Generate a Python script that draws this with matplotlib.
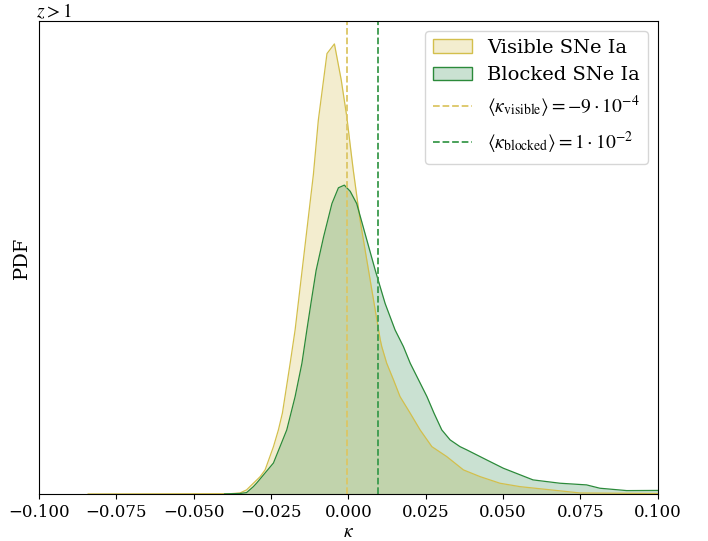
import numpy as np
import matplotlib
matplotlib.use('Agg')
import matplotlib.pyplot as plt

plt.rcParams['font.family'] = ['DejaVu Serif']
plt.rcParams['mathtext.fontset'] = 'stix'

# kappa grid and PDF values
kappa_visible = [-0.0841, -0.0380, -0.0350, -0.0329, -0.0285, -0.0269, -0.0242, -0.0226,
                 -0.0213, -0.0188, -0.0172, -0.0113, -0.0097, -0.0069, -0.0045, -0.0023,
                 -0.0005, 0.0009, 0.0016, 0.0038, 0.0103, 0.0108, 0.0124, 0.0146,
                 0.0167, 0.0200, 0.0232, 0.0270, 0.0318, 0.0372, 0.0426, 0.0490,
                 0.0555, 0.0749, 0.0999]
pdf_visible = [0.0, 0.03, 0.11, 0.46, 1.97, 2.74, 5.39, 7.30,
               9.23, 14.9, 18.7, 36.4, 42.6, 50.2, 51.3, 47.2,
               43.0, 38.9, 36.9, 31.2, 17.6, 16.8, 14.9, 13.0,
               11.1, 9.20, 7.30, 5.39, 4.26, 2.74, 1.97, 1.22,
               0.83, 0.11, 0.05]

kappa_blocked = [-0.0400, -0.0350, -0.0329, -0.0307, -0.0296, -0.0242, -0.0199, -0.0172,
                 -0.0150, -0.0134, -0.0121, -0.0104, -0.0080, -0.0053, -0.0032, -0.0013,
                 0.0006, 0.0027, 0.0057, 0.0087, 0.0119, 0.0151, 0.0178, 0.0200,
                 0.0254, 0.0277, 0.0302, 0.0329, 0.0361, 0.0383, 0.0447, 0.0501,
                 0.0597, 0.0684, 0.0770, 0.0813, 0.0900, 0.1001]
pdf_blocked = [0.0, 0.05, 0.15, 0.83, 1.25, 3.53, 7.30, 11.1,
               14.9, 18.7, 21.7, 25.5, 29.3, 33.1, 34.9, 35.2,
               34.5, 33.1, 29.3, 25.5, 21.7, 18.7, 16.8, 14.9,
               11.1, 9.20, 7.30, 6.16, 5.39, 5.02, 3.88, 2.93,
               1.60, 1.22, 1.03, 0.65, 0.38, 0.40]

mean_visible = -0.0004
mean_blocked = 0.0097

c_vis = '#DDCC77'
c_vis_edge = '#d3bf4c'
c_blk = '#117733'
c_blk_edge = '#2b8a3a'
c_vis_line = '#dcc665'
c_blk_line = '#3a9a4c'

fig = plt.figure(figsize=(7.08, 5.41), dpi=100)
ax = fig.add_axes([0.055, 0.087, 0.874, 0.874])

ax.fill_between(kappa_visible, pdf_visible, color=c_vis, alpha=0.35, lw=0)
ax.plot(kappa_visible, pdf_visible, color=c_vis_edge, lw=0.9)
ax.fill_between(kappa_blocked, pdf_blocked, color=c_blk, alpha=0.22, lw=0)
ax.plot(kappa_blocked, pdf_blocked, color=c_blk_edge, lw=0.9)

ax.axvline(mean_visible, color=c_vis_line, ls='--', lw=1.3)
ax.axvline(mean_blocked, color=c_blk_line, ls='--', lw=1.3)

# legend handles: light fills with solid edges, plus the dashed mean lines
handles = [
    plt.matplotlib.patches.Patch(facecolor=(*matplotlib.colors.to_rgb(c_vis), 0.35),
                                 edgecolor=c_vis_edge, lw=1),
    plt.matplotlib.patches.Patch(facecolor=(*matplotlib.colors.to_rgb(c_blk), 0.22),
                                 edgecolor=c_blk_edge, lw=1),
    plt.Line2D([], [], color=c_vis_line, ls='--', lw=1.3),
    plt.Line2D([], [], color=c_blk_line, ls='--', lw=1.3),
]
labels = ['Visible SNe Ia', 'Blocked SNe Ia',
          r'$\langle\kappa_{\rm visible}\rangle = -9\cdot10^{-4}$',
          r'$\langle\kappa_{\rm blocked}\rangle = 1\cdot10^{-2}$']
ax.legend(handles, labels, loc='upper right', fontsize=14, framealpha=0.8)

ax.set_xlim(-0.1, 0.1)
ax.set_ylim(0, 53.9)
ax.set_yticks([])
ax.set_xticks(np.arange(-0.1, 0.1001, 0.025))
ax.tick_params(axis='x', labelsize=12)
ax.set_xlabel(r'$\kappa$', fontsize=14, labelpad=2)
ax.set_ylabel('PDF', fontsize=14, labelpad=6)
ax.set_title(r'$z > 1$', loc='left', fontsize=14, pad=3, x=-0.005)

fig.savefig('out.png', dpi=100)
